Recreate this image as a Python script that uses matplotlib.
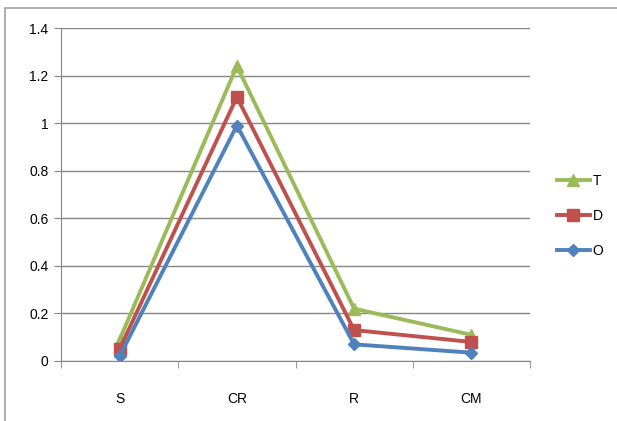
import numpy as np
import matplotlib.pyplot as plt
from matplotlib.patches import Rectangle

# --- data ---
categories = ['S', 'CR', 'R', 'CM']
t_vals = [0.09, 1.24, 0.22, 0.11]
d_vals = [0.05, 1.11, 0.13, 0.08]
o_vals = [0.02, 0.99, 0.07, 0.035]

fig = plt.figure(figsize=(6.17, 4.21), dpi=100)
plt.rcParams['font.family'] = ['Liberation Sans', 'DejaVu Sans']

# outer chart frame (only left and top edges visible)
fig.patches.append(Rectangle((4.5 / 617, -0.1), 1.2, 1.1 - 8 / 421,
                             transform=fig.transFigure, fill=False,
                             edgecolor='#a0a0a0', linewidth=1.2))

ax = fig.add_axes([61 / 617, 1 - 361 / 421, (530 - 61) / 617, (361 - 28) / 421])

x = np.arange(len(categories))
ax.plot(x, t_vals, color='#9BBB59', marker='^', markersize=9, linewidth=2.8, label='T')
ax.plot(x, d_vals, color='#C0504D', marker='s', markersize=8, linewidth=2.8, label='D')
ax.plot(x, o_vals, color='#4F81BD', marker='D', markersize=6, linewidth=2.8, label='O')

ax.set_xlim(-0.5, len(categories) - 0.5)
ax.set_ylim(0, 1.4)
ax.set_yticks(np.arange(0, 1.41, 0.2))
ax.set_yticklabels(['0', '0.2', '0.4', '0.6', '0.8', '1', '1.2', '1.4'])
ax.set_xticks(x)
ax.set_xticklabels(categories)
ax.set_xticks(np.arange(-0.5, len(categories), 1), minor=True)
ax.tick_params(axis='x', which='major', length=0, pad=22, labelsize=10)
ax.tick_params(axis='x', which='minor', length=5, color='#868686')
ax.tick_params(axis='y', length=5, color='#868686', labelsize=10, pad=4)

ax.grid(axis='y', color='#868686', linewidth=1.0)
ax.set_axisbelow(True)
for side in ['top', 'right']:
    ax.spines[side].set_visible(False)
for side in ['left', 'bottom']:
    ax.spines[side].set_color('#868686')

ax.legend(loc='center left', bbox_to_anchor=(1.03, 0.435), frameon=False,
          fontsize=10, handlelength=2.4, handletextpad=0.2, labelspacing=1.5)

fig.savefig('out.png', dpi=100)
